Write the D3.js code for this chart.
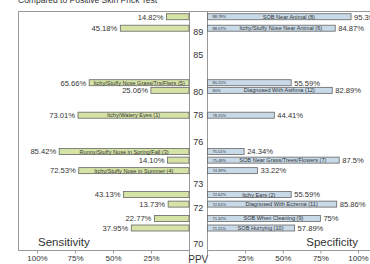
<!DOCTYPE html>
<html>
<head>
<meta charset="utf-8">
<script src="https://cdn.jsdelivr.net/npm/d3@7"></script>
<style>
body { margin: 0; background: #fff; }
svg { display: block; font-family: "Liberation Sans", Arial, sans-serif; }
</style>
</head>
<body>
<svg id="chart" width="370" height="264"></svg>
<script>
// dados
var names = ["SOB Near Animal (8)", "Itchy/Stuffy Nose Near Animal (6)", "Itchy/Stuffy Nose Grass/Trs/Flwrs (5)",
    "Diagnosed With Asthma (12)", "Itchy/Watery Eyes (1)", "Runny/Stuffy Nose in Spring/Fall (3)",
    "SOB Near Grass/Trees/Flowers (7)", "Itchy/Stuffy Nose in Summer (4)", "Itchy Ears (2)",
    "Diagnosed With Eczema (11)", "SOB When Cleaning (9)", "SOB Hurrying (10)"];
var sensitivity = [14.82, 45.18, 65.66, 25.06, 73.01, 85.42, 14.10, 72.53, 43.13, 13.73, 22.77, 37.95];
var specificity = [95.39, 84.87, 55.59, 82.89, 44.41, 24.34, 87.5, 33.22, 55.59, 85.86, 75, 57.89];
var ppv = [88.78, 88.07, 80.15, 80, 78.15, 75.51, 75.48, 74.39, 72.62, 72.61, 71.32, 71.11];
var ppvTicks = [89, 85, 80, 78, 76, 73, 72, 70];
var pctTicks = [25, 50, 75, 100];

// layout das linhas (em "unidades de linha"), os grupos nao sao igualmente espacados
var rowSlot = [0.6, 1.8, 7.5, 8.3, 10.9, 14.7, 15.6, 16.7, 19.2, 20.2, 21.7, 22.7];
var tickSlot = [2.1, 4.6, 8.4, 10.8, 13.6, 18, 20.6, 24.3];

var svg = d3.select("#chart");
var top_ = 11, bottom = 250;
var leftPanel = {x0: 18, x1: 189};
var rightPanel = {x0: 207.5, x1: 380};
var barH = 6;
var green = "#d5e3a6", blue = "#c8d9e8", barStroke = "#666", lineColor = "#999", textColor = "#333";

var y = d3.scaleLinear().domain([0, 25]).range([top_, bottom]);
var xL = d3.scaleLinear().domain([0, 100]).range([leftPanel.x1, 37]);
var xR = d3.scaleLinear().domain([0, 100]).range([rightPanel.x0, 358]);

var rows = names.map(function (n, i) {
    return {name: n, sens: sensitivity[i], spec: specificity[i], ppv: ppv[i], slot: rowSlot[i]};
});

// titulo (cortado no topo)
svg.append("text")
    .attr("x", 18).attr("y", 3)
    .style("font-size", "8.5px").style("fill", textColor)
    .text("Compared to Positive Skin Prick Test");

// paineis
svg.append("rect")
    .attr("x", leftPanel.x0 + 0.5).attr("y", top_ + 0.5)
    .attr("width", leftPanel.x1 - leftPanel.x0).attr("height", bottom - top_)
    .attr("fill", "none").attr("stroke", lineColor);
svg.append("rect")
    .attr("x", rightPanel.x0).attr("y", top_ + 0.5)
    .attr("width", rightPanel.x1 - rightPanel.x0).attr("height", bottom - top_)
    .attr("fill", "none").attr("stroke", lineColor);
// coluna do PPV
svg.append("line")
    .attr("x1", leftPanel.x1 + 0.5).attr("x2", rightPanel.x0 - 0.5)
    .attr("y1", top_ + 0.5).attr("y2", top_ + 0.5)
    .attr("stroke", lineColor);
[leftPanel.x1 + 0.5, rightPanel.x0].forEach(function (xx) {
    svg.append("line")
        .attr("x1", xx).attr("x2", xx)
        .attr("y1", top_).attr("y2", bottom + 5)
        .attr("stroke", lineColor);
});

// barras da esquerda (sensibilidade)
var lg = svg.append("g");
lg.selectAll("rect").data(rows).enter()
    .append("rect")
    .attr("x", function (d) { return xL(d.sens); })
    .attr("y", function (d) { return y(d.slot) - barH / 2; })
    .attr("width", function (d) { return xL(0) - xL(d.sens); })
    .attr("height", barH)
    .attr("fill", green).attr("stroke", barStroke).attr("stroke-width", 0.8);
lg.selectAll("text.val").data(rows).enter()
    .append("text").attr("class", "val")
    .attr("x", function (d) { return xL(d.sens) - 3; })
    .attr("y", function (d) { return y(d.slot) + 2.8; })
    .attr("text-anchor", "end")
    .style("font-size", "7.6px").style("fill", textColor)
    .text(function (d) { return d3.format(".2f")(d.sens) + "%"; });
// o nome vai na barra mais comprida
lg.selectAll("text.name").data(rows.filter(function (d) { return d.sens > d.spec; })).enter()
    .append("text").attr("class", "name")
    .attr("x", function (d) { return (xL(d.sens) + xL(0)) / 2; })
    .attr("y", function (d) { return y(d.slot) + 2; })
    .attr("text-anchor", "middle")
    .style("font-size", "5.6px").style("fill", textColor)
    .text(function (d) { return d.name; });

// barras da direita (especificidade)
var rg = svg.append("g");
rg.selectAll("rect").data(rows).enter()
    .append("rect")
    .attr("x", xR(0))
    .attr("y", function (d) { return y(d.slot) - barH / 2; })
    .attr("width", function (d) { return xR(d.spec) - xR(0); })
    .attr("height", barH)
    .attr("fill", blue).attr("stroke", barStroke).attr("stroke-width", 0.8);
rg.selectAll("text.val").data(rows).enter()
    .append("text").attr("class", "val")
    .attr("x", function (d) { return xR(d.spec) + 3; })
    .attr("y", function (d) { return y(d.slot) + 2.8; })
    .style("font-size", "7.6px").style("fill", textColor)
    .text(function (d) { return d.spec + "%"; });
rg.selectAll("text.ppv").data(rows).enter()
    .append("text").attr("class", "ppv")
    .attr("x", xR(0) + 5)
    .attr("y", function (d) { return y(d.slot) + 1.5; })
    .style("font-size", "4px").style("fill", textColor)
    .text(function (d) { return d.ppv + "%"; });
rg.selectAll("text.name").data(rows.filter(function (d) { return d.spec >= d.sens; })).enter()
    .append("text").attr("class", "name")
    .attr("x", function (d) { return (xR(0) + 19 + xR(d.spec)) / 2; })
    .attr("y", function (d) { return y(d.slot) + 2; })
    .attr("text-anchor", "middle")
    .style("font-size", "5.6px").style("fill", textColor)
    .text(function (d) { return d.name; });

// valores de PPV no meio
var cx = (leftPanel.x1 + rightPanel.x0) / 2;
svg.append("g").selectAll("text").data(ppvTicks).enter()
    .append("text")
    .attr("x", cx)
    .attr("y", function (d, i) { return y(tickSlot[i]) + 3.5; })
    .attr("text-anchor", "middle")
    .style("font-size", "9px").style("fill", textColor)
    .text(function (d) { return d; });

// eixos de baixo
var fmt = function (d) { return d + "%"; };
[xL, xR].forEach(function (sc) {
    var ax = svg.append("g")
        .attr("transform", "translate(0," + (bottom + 0.5) + ")")
        .call(d3.axisBottom(sc).tickValues(pctTicks).tickFormat(fmt).tickSize(3).tickPadding(2));
    ax.select(".domain").remove();
    ax.selectAll("line").attr("stroke", lineColor);
    ax.selectAll("text").style("font-size", "8px").style("fill", textColor)
        .style("font-family", "'Liberation Sans', Arial, sans-serif");
});

svg.append("text")
    .attr("x", 38).attr("y", 246)
    .style("font-size", "11.5px").style("fill", textColor)
    .text("Sensitivity");
svg.append("text")
    .attr("x", 358).attr("y", 246)
    .attr("text-anchor", "end")
    .style("font-size", "11.5px").style("fill", textColor)
    .text("Specificity");
svg.append("text")
    .attr("x", cx).attr("y", 263)
    .attr("text-anchor", "middle")
    .style("font-size", "10px").style("fill", textColor)
    .text("PPV");
</script>
</body>
</html>
